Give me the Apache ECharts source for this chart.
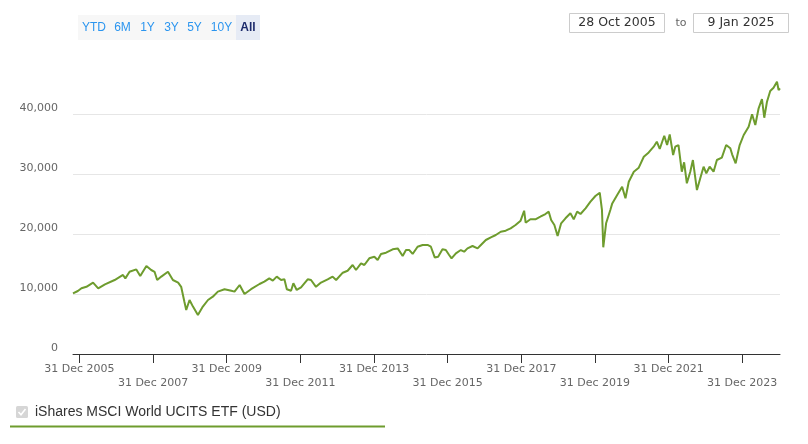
<!DOCTYPE html>
<html><head><meta charset="utf-8">
<script src="https://cdn.jsdelivr.net/npm/echarts@6/dist/echarts.min.js"></script>
<style>html,body{margin:0;padding:0;background:#fff}#c{width:808px;height:444px}</style>
</head><body><div id="c"></div>
<script>
const seriesName = 'iShares MSCI World UCITS ETF (USD)';
const dates = [
'2005-10-28','2005-12-15','2006-01-20','2006-03-10','2006-05-15','2006-07-05','2006-09-10','2006-12-15',
'2007-03-08','2007-03-31','2007-05-12','2007-07-18','2007-08-26','2007-10-26','2007-12-13',
'2008-01-15','2008-02-10','2008-03-22','2008-05-27','2008-07-15','2008-09-05','2008-10-05','2008-11-06','2008-11-24','2008-12-27',
'2009-01-30','2009-03-20','2009-05-08','2009-06-28','2009-08-15','2009-10-04','2009-12-09',
'2010-02-14','2010-03-18','2010-05-08','2010-06-25','2010-08-29','2010-11-21',
'2011-01-08','2011-02-26','2011-04-02','2011-05-11','2011-06-23','2011-07-26','2011-08-19','2011-09-30','2011-10-23','2011-11-25',
'2012-01-07','2012-03-13','2012-04-15','2012-06-03','2012-07-23','2012-09-27','2012-11-15','2012-12-20',
'2013-02-24','2013-04-13','2013-06-02','2013-07-05','2013-08-24','2013-09-26','2013-11-14',
'2014-01-03','2014-02-05','2014-03-10','2014-04-29','2014-07-04','2014-08-23','2014-10-11','2014-11-13','2014-12-16',
'2015-01-18','2015-03-08','2015-04-27','2015-06-15','2015-07-18','2015-08-25','2015-09-28','2015-11-10','2015-12-13',
'2016-01-15','2016-02-08','2016-03-22','2016-05-10','2016-06-12','2016-07-15','2016-09-03','2016-10-23','2016-11-25',
'2017-01-13','2017-03-04','2017-04-22','2017-06-10','2017-07-29','2017-09-16','2017-11-04','2017-12-24',
'2018-01-28','2018-02-12','2018-03-31','2018-05-20','2018-07-08','2018-08-27','2018-09-29','2018-10-23','2018-11-24','2018-12-26',
'2019-01-30','2019-03-14','2019-05-02','2019-06-04','2019-07-08','2019-08-10','2019-09-29','2019-11-17',
'2020-01-05','2020-02-17','2020-03-10','2020-03-23','2020-04-20','2020-06-01','2020-06-20','2020-08-08','2020-09-26','2020-10-29','2020-12-01',
'2021-01-20','2021-03-10','2021-04-29','2021-06-17','2021-08-05','2021-09-05','2021-10-04','2021-11-18','2021-12-16',
'2022-01-11','2022-02-14','2022-03-07','2022-04-08','2022-05-11','2022-06-03','2022-06-30','2022-08-03','2022-08-29','2022-10-08','2022-11-10','2022-12-13',
'2023-01-09','2023-02-11','2023-03-22','2023-04-24','2023-06-12','2023-07-25','2023-09-04','2023-09-22','2023-10-27','2023-12-06',
'2024-01-15','2024-03-04','2024-04-07','2024-05-09','2024-06-11','2024-07-14','2024-08-06','2024-09-02','2024-10-04','2024-11-06','2024-12-10','2024-12-26',
'2025-01-09'
];
const values = [
10100,10500,10950,11200,11900,10950,11600,12330,
13170,12600,13700,14100,13000,14670,14000,
13700,12330,12900,13700,12330,11900,11200,8700,7330,9000,
7900,6500,7900,9000,9550,10400,10800,
10550,10400,11500,10000,10800,11670,
12050,12600,12220,12900,12330,12450,10800,10550,11780,10670,
11100,12450,12330,11200,11900,12450,12900,12330,
13550,13880,14830,14000,15100,14830,15950,
16220,15670,16670,16880,17450,17600,16330,17330,17330,
16670,17880,18170,18170,17880,16100,16220,17450,17330,
16500,15950,16780,17330,17050,17600,18000,17600,18170,
19000,19450,19830,20380,20550,20950,21500,22220,
23880,21880,22450,22450,22880,23330,23720,22330,21500,19670,
21780,22620,23450,22450,23720,23330,24280,25380,
26330,26880,24000,17780,21780,24000,25100,26500,27880,25950,28720,
30380,31050,32880,33600,34550,35380,34170,36380,34830,
36600,33170,34550,34830,30380,31950,28450,30380,32330,27330,29280,31220,
30120,31220,30380,32330,32720,34830,34280,33280,31780,34830,
36500,37880,39950,38170,40950,42500,39380,42050,43830,44380,45380,44000,
44280
];
const xTickDates = ['2005-12-31','2007-12-31','2009-12-31','2011-12-31','2013-12-31','2015-12-31','2017-12-31','2019-12-31','2021-12-31','2023-12-31'];
const xTickLabels = ['31 Dec 2005','31 Dec 2007','31 Dec 2009','31 Dec 2011','31 Dec 2013','31 Dec 2015','31 Dec 2017','31 Dec 2019','31 Dec 2021','31 Dec 2023'];
const yTickLabels = ['0','10,000','20,000','30,000','40,000'];
const rangeButtons = ['YTD','6M','1Y','3Y','5Y','10Y','All'];
const dateFrom = '28 Oct 2005';
const dateTo = '9 Jan 2025';
const dateSep = 'to';
const xStart = '2005-10-28';
const xEnd = '2025-01-09';

const GREEN = '#6e9c2e';
const T = d => +echarts.time.parse(d);
const chart = echarts.init(document.getElementById('c'), null, {renderer: 'canvas'});
const tickTimes = xTickDates.map(T);
const btnCenters = [94, 122.5, 147.5, 171.5, 194.5, 221.5, 248];
const graphics = [
  {type: 'rect', shape: {x: 78, y: 15, width: 158, height: 25}, style: {fill: '#f7f7f7'}},
  {type: 'rect', shape: {x: 236, y: 15, width: 24, height: 25}, style: {fill: '#e6ebf5'}}
];
rangeButtons.forEach((b, i) => {
  const sel = i === rangeButtons.length - 1;
  graphics.push({type: 'text', x: btnCenters[i], y: 27.5, style: {
    text: b, align: 'center', verticalAlign: 'middle',
    font: (sel ? 'bold ' : '') + '12px "Liberation Sans", Arial, sans-serif',
    fill: sel ? '#1c2a6b' : '#2b95ef'}});
});
graphics.push(
  {type: 'rect', shape: {x: 569.5, y: 13.5, width: 95, height: 19}, style: {fill: '#fff', stroke: '#cccccc', lineWidth: 1}},
  {type: 'text', x: 617, y: 23, style: {text: dateFrom, align: 'center', verticalAlign: 'middle', font: '12.5px "DejaVu Sans", sans-serif', fill: '#333'}},
  {type: 'text', x: 681, y: 23, style: {text: dateSep, align: 'center', verticalAlign: 'middle', font: '11px "DejaVu Sans", sans-serif', fill: '#666'}},
  {type: 'rect', shape: {x: 693.5, y: 13.5, width: 95, height: 19}, style: {fill: '#fff', stroke: '#cccccc', lineWidth: 1}},
  {type: 'text', x: 741, y: 23, style: {text: dateTo, align: 'center', verticalAlign: 'middle', font: '12.5px "DejaVu Sans", sans-serif', fill: '#333'}},
  {type: 'rect', shape: {x: 16, y: 406, width: 12, height: 12, r: 1.5}, style: {fill: '#d6d6d6'}},
  {type: 'polyline', shape: {points: [[18.5, 412], [21, 414.8], [25.5, 409]]}, style: {stroke: '#fff', lineWidth: 1.6, fill: null}},
  {type: 'text', x: 35, y: 412, style: {text: seriesName, align: 'left', verticalAlign: 'middle', font: '14px "Liberation Sans", Arial, sans-serif', fill: '#333'}},
  {type: 'rect', shape: {x: 10, y: 425.5, width: 375, height: 2}, style: {fill: GREEN}}
);

chart.setOption({
  animation: false,
  grid: {left: 73, right: 28, top: 54, bottom: 90, containLabel: false},
  xAxis: {
    type: 'value', min: T(xStart), max: T(xEnd),
    axisLine: {show: true, onZero: false, lineStyle: {color: '#333', width: 1}},
    axisTick: {show: true, length: 9, customValues: tickTimes, lineStyle: {color: '#333'}},
    axisLabel: {
      customValues: tickTimes, margin: 8, lineHeight: 14, fontSize: 11,
      fontFamily: '"DejaVu Sans", sans-serif', color: '#666', hideOverlap: false,
      formatter: function (v) {
        let best = 0;
        tickTimes.forEach((t, k) => { if (Math.abs(t - v) < Math.abs(tickTimes[best] - v)) best = k; });
        return (best % 2 ? '\n' : '') + xTickLabels[best];
      }
    },
    splitLine: {show: false}
  },
  yAxis: {
    type: 'value', min: 0, max: 50000, interval: 10000,
    axisLine: {show: false}, axisTick: {show: false},
    axisLabel: {
      margin: 15, fontSize: 11, fontFamily: '"DejaVu Sans", sans-serif', color: '#666',
      verticalAlign: 'bottom', lineHeight: 12, showMaxLabel: false,
      formatter: function (v) { const i = Math.round(v / 10000); return yTickLabels[i] !== undefined ? yTickLabels[i] : ''; }
    },
    splitLine: {show: true, showMaxLine: false, lineStyle: {color: '#e6e6e6', width: 1}}
  },
  series: [{
    name: seriesName, type: 'line', showSymbol: false, symbol: 'none',
    data: dates.map((d, i) => [T(d), values[i]]),
    lineStyle: {color: GREEN, width: 2}, itemStyle: {color: GREEN}
  }],
  graphic: graphics
});
</script>
</body></html>
